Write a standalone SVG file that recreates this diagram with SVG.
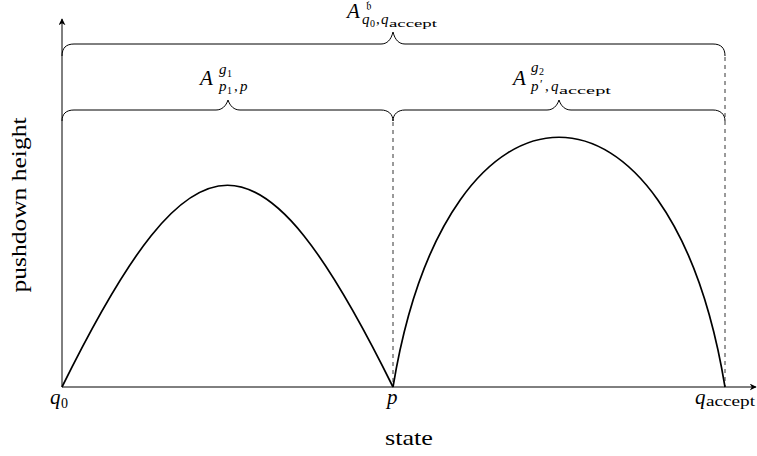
<svg xmlns="http://www.w3.org/2000/svg" width="757" height="456" viewBox="0 0 757 456">
<defs>
<marker id="arr" viewBox="0 0 10 10" refX="9" refY="5" markerWidth="7" markerHeight="7" markerUnits="userSpaceOnUse" orient="auto">
<path d="M0,0 L10,5 L0,10 L3,5 Z" fill="#000"/>
</marker>
</defs>
<style>
.axis{stroke:#000;stroke-width:1;fill:none}
.curve{stroke:#000;stroke-width:1.7;fill:none}
.brace{stroke:#000;stroke-width:1;fill:none}
.dash{stroke:#000;stroke-width:0.8;stroke-dasharray:4 4;fill:none}
.i{font-style:italic}
</style>
<g id="connectors">
<line class="axis" x1="62" y1="387" x2="62" y2="19" marker-end="url(#arr)"/>
<line class="axis" x1="62" y1="387" x2="756" y2="387" marker-end="url(#arr)"/>
<path class="dash" d="M393,122 V387"/>
<path class="dash" d="M725,57 V387"/>
</g>
<g id="arc1"><path class="curve" d="M62,387 C195,118 260,118 393,387"/></g>
<g id="arc2"><path class="curve" d="M393,387 C448,54 670,54 725,387"/></g>
<g id="brace-top" font-family="Liberation Serif, DejaVu Serif, serif" fill="#000">
<path class="brace" d="M62,56 C62,48 66,44 74,44 L381,44 C387,44 391,40 393,32 C395,40 399,44 405,44 L713,44 C721,44 725,48 725,56"/>
<text class="i" x="347" y="18" font-size="21">A</text>
<text x="366" y="10" font-size="12" font-family="DejaVu Serif, DejaVu Sans, serif">𝔟</text>
<text class="i" x="362" y="24" font-size="15">q</text>
<text x="370" y="27" font-size="10">0</text>
<text x="376" y="24" font-size="15">,</text>
<text class="i" x="381" y="24" font-size="15">q</text>
<text x="389" y="27" font-size="11" textLength="48" lengthAdjust="spacingAndGlyphs">accept</text>
</g>
<g id="brace-left" font-family="Liberation Serif, DejaVu Serif, serif" fill="#000">
<path class="brace" d="M62,121 C62,114 66,110 74,110 L216,110 C222,110 226,106 228,100 C230,106 234,110 240,110 L381,110 C388,110 393,114 393,121"/>
<text class="i" x="200" y="85" font-size="21">A</text>
<text class="i" x="219" y="74" font-size="15">g</text>
<text x="227" y="77" font-size="10">1</text>
<text class="i" x="219" y="91" font-size="15">p</text>
<text x="227" y="94" font-size="10">1</text>
<text x="234" y="91" font-size="15">,</text>
<text class="i" x="240" y="91" font-size="15">p</text>
</g>
<g id="brace-right" font-family="Liberation Serif, DejaVu Serif, serif" fill="#000">
<path class="brace" d="M393,121 C393,114 398,110 405,110 L547,110 C553,110 557,106 559,100 C561,106 565,110 571,110 L713,110 C720,110 725,114 725,121"/>
<text class="i" x="513" y="85" font-size="21">A</text>
<text class="i" x="531" y="72" font-size="15">g</text>
<text x="539" y="75" font-size="10">2</text>
<text class="i" x="531" y="91" font-size="15">p</text>
<text x="540" y="88" font-size="12">′</text>
<text x="545" y="91" font-size="15">,</text>
<text class="i" x="551" y="91" font-size="15">q</text>
<text x="559" y="94" font-size="11" textLength="52" lengthAdjust="spacingAndGlyphs">accept</text>
</g>
<g id="labels" font-family="Liberation Serif, DejaVu Serif, serif" fill="#000">
<text class="i" x="50" y="404" font-size="21">q</text>
<text x="61" y="408" font-size="14">0</text>
<text class="i" x="387" y="404" font-size="21">p</text>
<text class="i" x="695" y="404" font-size="21">q</text>
<text x="706" y="406" font-size="14" textLength="49" lengthAdjust="spacingAndGlyphs">accept</text>
<text x="409" y="445" font-size="21" text-anchor="middle" textLength="48" lengthAdjust="spacingAndGlyphs">state</text>
<text transform="translate(26,205) rotate(-90)" font-size="21" text-anchor="middle" textLength="175" lengthAdjust="spacingAndGlyphs">pushdown height</text>
</g>
</svg>
